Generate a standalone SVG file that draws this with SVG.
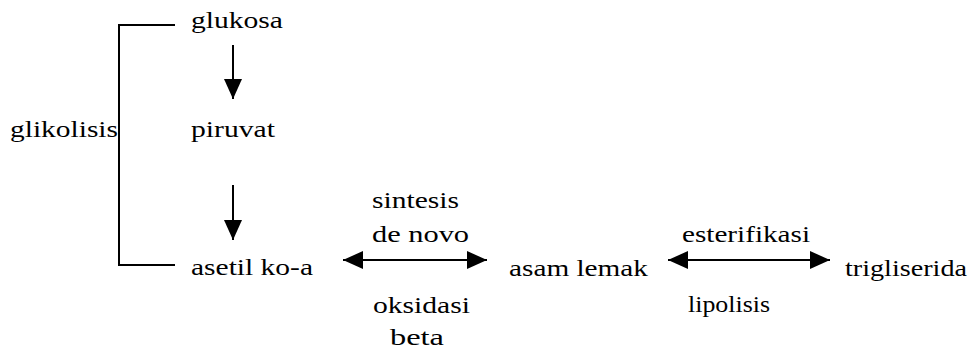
<svg xmlns="http://www.w3.org/2000/svg" width="979" height="353" viewBox="0 0 979 353">
  <defs>
    <style>
      text { font-family: "Liberation Serif", "Times New Roman", serif; font-size: 24px; fill: #000; }
      .ln { stroke: #000; stroke-width: 2; fill: none; }
    </style>
    <marker id="head" viewBox="0 0 20 18" refX="20" refY="9" markerWidth="20" markerHeight="18" markerUnits="userSpaceOnUse" orient="auto-start-reverse">
      <path d="M0,0 L20,9 L0,18 Z" fill="#000"/>
    </marker>
  </defs>
  <rect width="979" height="353" fill="#fff"/>

  <g id="connectors">
    <!-- glycolysis bracket -->
    <path class="ln" d="M175,25 H119 V265 H175"/>
    <!-- glukosa to piruvat -->
    <line class="ln" x1="233" y1="45" x2="233" y2="99" marker-end="url(#head)"/>
    <!-- piruvat to asetil ko-a -->
    <line class="ln" x1="233" y1="185" x2="233" y2="240" marker-end="url(#head)"/>
    <!-- asetil ko-a to asam lemak -->
    <line class="ln" x1="343" y1="260" x2="487" y2="260" marker-start="url(#head)" marker-end="url(#head)"/>
    <!-- asam lemak to trigliserida -->
    <line class="ln" x1="668" y1="260" x2="830" y2="260" marker-start="url(#head)" marker-end="url(#head)"/>
  </g>

  <!-- labels: serif face widened to fixed run lengths -->
  <g id="glukosa"><text x="191" y="28" textLength="92" lengthAdjust="spacingAndGlyphs">glukosa</text></g>
  <g id="glikolisis"><text x="10" y="137" textLength="108" lengthAdjust="spacingAndGlyphs">glikolisis</text></g>
  <g id="piruvat"><text x="191" y="137" textLength="84" lengthAdjust="spacingAndGlyphs">piruvat</text></g>
  <g id="asetil-koa"><text x="191" y="275" textLength="122" lengthAdjust="spacingAndGlyphs">asetil ko-a</text></g>
  <g id="asam-lemak"><text x="509" y="276" textLength="139" lengthAdjust="spacingAndGlyphs">asam lemak</text></g>
  <g id="trigliserida"><text x="845" y="276" textLength="122" lengthAdjust="spacingAndGlyphs">trigliserida</text></g>

  <g id="label-sintesis">
    <text x="372" y="208" textLength="87" lengthAdjust="spacingAndGlyphs">sintesis</text>
    <text x="372" y="242" textLength="97" lengthAdjust="spacingAndGlyphs">de novo</text>
  </g>
  <g id="label-oksidasi">
    <text x="373" y="313" textLength="97" lengthAdjust="spacingAndGlyphs">oksidasi</text>
    <text x="390" y="345" textLength="54" lengthAdjust="spacingAndGlyphs">beta</text>
  </g>
  <g id="label-esterifikasi"><text x="682" y="242" textLength="128" lengthAdjust="spacingAndGlyphs">esterifikasi</text></g>
  <g id="label-lipolisis"><text x="688" y="312" textLength="82" lengthAdjust="spacingAndGlyphs">lipolisis</text></g>
</svg>
